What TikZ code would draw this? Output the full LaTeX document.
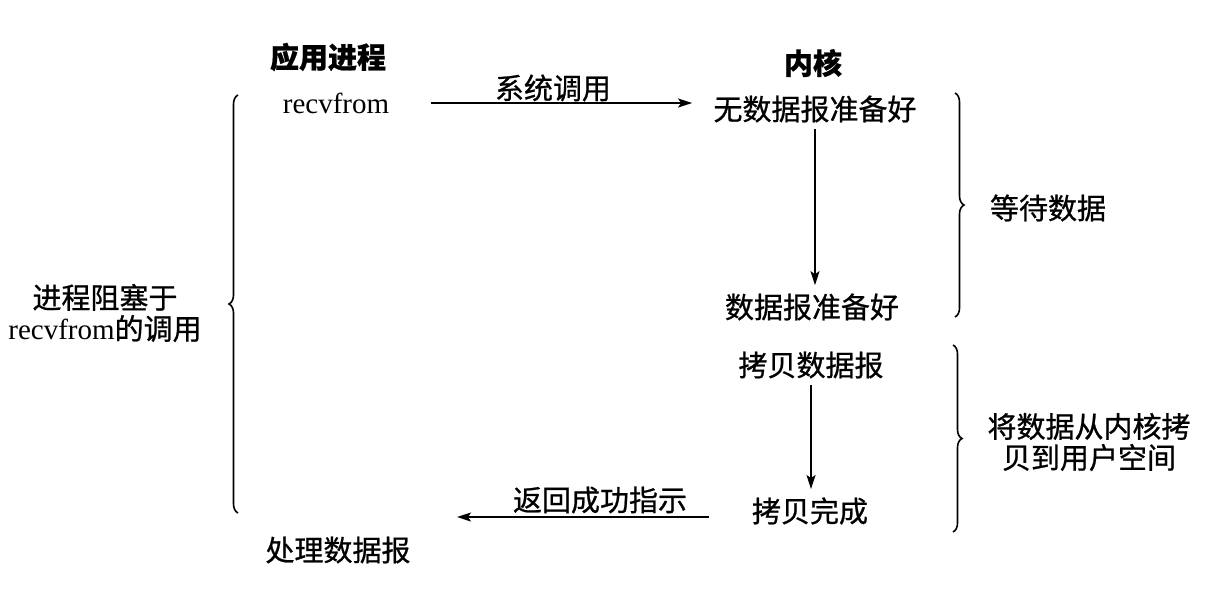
\documentclass[tikz,border=0pt]{standalone}
\usepackage{fontspec}
\setmainfont{Liberation Serif}
\newfontfamily\cjk[FakeBold=0.8]{Noto Sans CJK SC}
\usetikzlibrary{decorations.pathreplacing,arrows.meta}
\begin{document}
\begin{tikzpicture}[x=0.5pt,y=-0.5pt,
  every node/.style={inner sep=0pt, font=\fontsize{14.5}{15.5}\selectfont\cjk},
  head/.style={font=\fontsize{14.5}{15.5}\selectfont\cjk\bfseries},
  latin/.style={font=\fontsize{14.5}{15.5}\selectfont\rmfamily},
  lbl/.style={align=center},
  arr/.style={-{Stealth[length=7pt,width=4.5pt,inset=1.5pt]}, line width=0.8pt},
  brc/.style={decorate, decoration={brace, amplitude=4.5pt}, line width=0.8pt}]
\useasboundingbox (0,0) rectangle (1213,606);
% headings
\node[head] (app) at (328,57) {应用进程};
\node[head] (kern) at (813,63) {内核};
% main texts
\node[latin] (recv) at (336,103) {recvfrom};
\node (nodata) at (815,109) {无数据报准备好};
\node (ready) at (812,307) {数据报准备好};
\node (copy) at (811,365) {拷贝数据报};
\node (done) at (810,511) {拷贝完成};
\node (proc) at (338,550) {处理数据报};
% system call arrow
\node (syscall) at (553,88) {系统调用};
\draw[arr, shorten >=10.5pt] (recv.east) ++(41,0) coordinate (sc0) -- (sc0 -| nodata.west);
% vertical arrows
\draw[arr, shorten <=3pt, shorten >=4pt] (nodata.south) -- (nodata.south |- ready.north);
\draw[arr, shorten <=3pt, shorten >=4pt] (copy.south) -- (copy.south |- done.north);
% return arrow
\node (ret) at (600,500) {返回成功指示};
\coordinate (retend) at (457,517);
\draw[arr] (done.west |- retend) ++(-43,0) coordinate (rt0) -- (retend);
% braces
\coordinate (b1t) at (955,93);
\coordinate (b1b) at (955,317);
\draw[brc] (b1t) -- (b1b);
\node (wait) at (1048,208) {等待数据};
\coordinate (b2t) at (953,345);
\coordinate (b2b) at (953,532);
\draw[brc] (b2t) -- (b2b);
\node[lbl] (copylbl) at (1089,442) {将数据从内核拷\\贝到用户空间};
\coordinate (b3t) at (238,95);
\coordinate (b3b) at (238,513);
\draw[brc] (b3b) -- (b3t);
\node[lbl] (block) at (105,313) {进程阻塞于\\{\rmfamily recvfrom}的调用};
\end{tikzpicture}
\end{document}
